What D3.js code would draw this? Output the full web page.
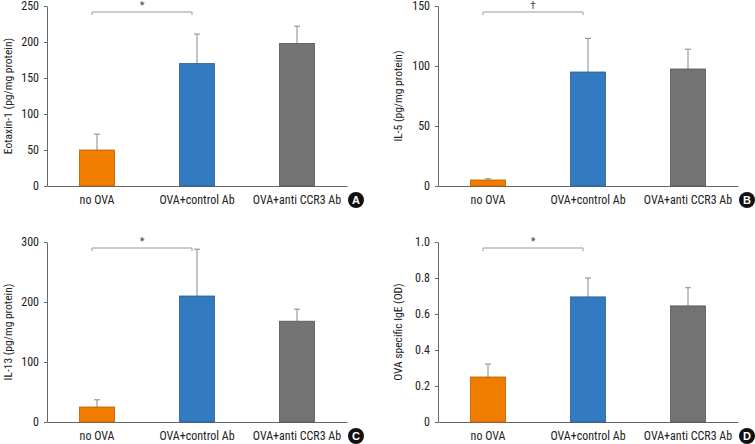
<!DOCTYPE html>
<html><head><meta charset="utf-8">
<script src="https://cdn.jsdelivr.net/npm/d3@7"></script>
<style>
html,body{margin:0;padding:0;background:#fff;}
text{font-family:"Liberation Sans Narrow","Roboto Condensed","Arial Narrow","Liberation Sans",sans-serif;}
</style></head>
<body>
<svg id="c" width="755" height="444"></svg>
<script>
const categories = ["no OVA", "OVA+control Ab", "OVA+anti CCR3 Ab"];
const colors = ["#F07C00", "#337BC1", "#737373"];
const strokes = ["#b85e00", "#255e96", "#555555"];

const eotaxinValues = [50, 170, 198];
const eotaxinErrTop = [72, 211, 222];
const eotaxinTicks = [0, 50, 100, 150, 200, 250];

const il5Values = [5, 95, 97.5];
const il5ErrTop = [6, 123, 114];
const il5Ticks = [0, 50, 100, 150];

const il13Values = [25, 210, 168];
const il13ErrTop = [37, 288, 188];
const il13Ticks = [0, 100, 200, 300];

const igeValues = [0.25, 0.695, 0.645];
const igeErrTop = [0.322, 0.8, 0.746];
const igeTicks = [0, 0.2, 0.4, 0.6, 0.8, 1.0];
const igeTickLabels = ["0", "0.2", "0.4", "0.6", "0.8", "1.0"];

const panels = [
  {ax:47, top:6, zero:186, max:250, ticks:eotaxinTicks, fmt:d=>String(d), vals:eotaxinValues, errs:eotaxinErrTop, label:"Eotaxin-1 (pg/mg protein)", sig:"*", letter:"A", lx:8},
  {ax:438, top:6, zero:186, max:150, ticks:il5Ticks, fmt:d=>String(d), vals:il5Values, errs:il5ErrTop, label:"IL-5 (pg/mg protein)", sig:"\u2020", letter:"B", lx:398},
  {ax:47, top:242, zero:422, max:300, ticks:il13Ticks, fmt:d=>String(d), vals:il13Values, errs:il13ErrTop, label:"IL-13 (pg/mg protein)", sig:"*", letter:"C", lx:8},
  {ax:438, top:242, zero:422, max:1.0, ticks:igeTicks, fmt:(d,i)=>igeTickLabels[i], vals:igeValues, errs:igeErrTop, label:"OVA specific IgE (OD)", sig:"*", letter:"D", lx:398}
];

const svg = d3.select("#c");

panels.forEach(p => {
  const g = svg.append("g");
  const x = d3.scaleBand().domain(categories).range([p.ax, p.ax + 300]).paddingInner(0.65).paddingOuter(0.325);
  const y = d3.scaleLinear().domain([0, p.max]).range([p.zero, p.top]);

  // y axis
  const yAxis = d3.axisLeft(y).tickValues(p.ticks).tickFormat(p.fmt).tickSizeInner(3).tickSizeOuter(0).tickPadding(5);
  const ya = g.append("g").attr("transform", `translate(${p.ax},0)`).call(yAxis);
  ya.select(".domain").attr("stroke", "#666");
  ya.selectAll(".tick line").attr("stroke", "#666");
  ya.selectAll(".tick text").attr("fill", "#222").style("font-size", "12px");

  // x axis
  const xAxis = d3.axisBottom(x).tickSize(0).tickPadding(9);
  const xa = g.append("g").attr("transform", `translate(0,${p.zero})`).call(xAxis);
  xa.select(".domain").attr("stroke", "#666");
  xa.selectAll(".tick text").attr("fill", "#222").style("font-size", "12px");

  // error bars
  categories.forEach((c, i) => {
    const cx = x(c) + x.bandwidth() / 2;
    g.append("line").attr("x1", cx).attr("x2", cx).attr("y1", y(p.vals[i])).attr("y2", y(p.errs[i]))
      .attr("stroke", "#888").attr("stroke-width", 1);
    g.append("line").attr("x1", cx - 3).attr("x2", cx + 3).attr("y1", y(p.errs[i])).attr("y2", y(p.errs[i]))
      .attr("stroke", "#888").attr("stroke-width", 1);
  });

  // bars
  g.selectAll("rect.bar").data(p.vals).enter().append("rect").attr("class", "bar")
    .attr("x", (d, i) => x(categories[i]))
    .attr("y", d => y(d))
    .attr("width", x.bandwidth())
    .attr("height", d => p.zero - y(d))
    .attr("fill", (d, i) => colors[i])
    .attr("stroke", (d, i) => strokes[i])
    .attr("stroke-width", 0.8);

  // significance bracket
  const bx1 = x(categories[0]) + x.bandwidth() / 2 - 5;
  const bx2 = x(categories[1]) + x.bandwidth() / 2 - 5;
  const by = p.top + 6;
  g.append("path").attr("d", `M${bx1},${by + 3}V${by}H${bx2}V${by + 3}`)
    .attr("fill", "none").attr("stroke", "#999").attr("stroke-width", 1);
  g.append("text").attr("x", (bx1 + bx2) / 2).attr("y", by - 3).attr("text-anchor", "middle")
    .style("font-size", "11px").attr("fill", "#444").text(p.sig);

  // y label
  g.append("text").attr("transform", `translate(${p.lx + 4},${(p.top + p.zero) / 2}) rotate(-90)`)
    .attr("text-anchor", "middle").style("font-size", "11.5px").attr("fill", "#222").text(p.label);

  // letter badge
  const lxp = p.ax + 309, lyp = p.zero + 14;
  g.append("circle").attr("cx", lxp).attr("cy", lyp).attr("r", 8).attr("fill", "#111");
  g.append("text").attr("x", lxp).attr("y", lyp + 4).attr("text-anchor", "middle")
    .style("font-size", "11px").style("font-weight", "bold").style("font-family", "'Liberation Sans',Arial,sans-serif")
    .attr("fill", "#fff").text(p.letter);
});
</script>
</body></html>
